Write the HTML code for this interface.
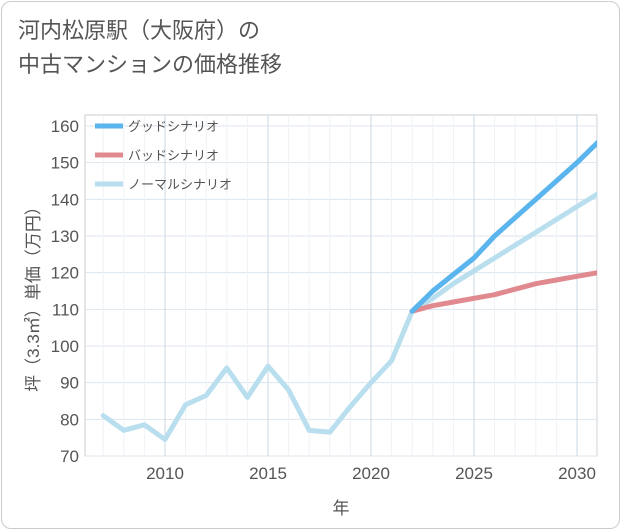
<!DOCTYPE html>
<html><head><meta charset="utf-8">
<style>
html,body{margin:0;padding:0;background:#fff;}
body{width:621px;height:530px;overflow:hidden;font-family:"Liberation Sans","Noto Sans CJK JP",sans-serif;}
.frame{position:absolute;left:1px;top:1px;width:617px;height:526px;border:1px solid #ccc;border-radius:10px;}
.title{position:absolute;left:18px;top:14px;font-size:22px;line-height:34px;color:#555;}
</style></head>
<body>
<div class="frame"></div>
<div class="title">河内松原駅（大阪府）の<br>中古マンションの価格推移</div>
<svg id="chart" width="621" height="530" style="position:absolute;left:0;top:0"></svg>
<script>
const yearsPast=[2007,2008,2009,2010,2011,2012,2013,2014,2015,2016,2017,2018,2019,2020,2021,2022];
const pastValues=[81,77,78.5,74.5,84,86.5,94,86,94.5,88,77,76.5,83.5,90,96,109.5];
const yearsFuture=[2022,2023,2024,2025,2026,2027,2028,2029,2030,2031];
const goodValues=[109.5,115,119.5,124,130,135,140,145,150,155.5];
const badValues=[109.5,111,112,113,114,115.5,117,118,119,120];
const normalValues=[109.5,113,117,120.5,124,127.5,131,134.5,138,141.5];
const yTicks=[70,80,90,100,110,120,130,140,150,160];
const xTicks=[2010,2015,2020,2025,2030];
const legendLabels=["グッドシナリオ","バッドシナリオ","ノーマルシナリオ"];

const L=85,R=597,T=115,B=456;
const x=v=>165+(v-2010)*(577-165)/20;
const y=v=>456-(v-70)*(456-126)/90;
const svg=document.getElementById('chart');
const NS='http://www.w3.org/2000/svg';
function mk(t,a,p){const e=document.createElementNS(NS,t);for(const k in a)e.setAttribute(k,a[k]);(p||svg).appendChild(e);return e;}

const bg=mk('rect',{x:L,y:T,width:R-L,height:B-T,fill:'#fff',stroke:'#ccc'});


for(const t of yTicks){
  const g=mk('line',{x1:L,x2:R,y1:y(t),y2:y(t),stroke:'#dde6ee'});
  
  
  const tx=mk('text',{x:L-6,y:y(t)+6,'text-anchor':'end','font-size':17,fill:'#555'});
  tx.textContent=t;
  
  
}
for(let yr=2007;yr<=2031;yr++){
  const major=xTicks.includes(yr);
  const g=mk('line',{x1:x(yr),x2:x(yr),y1:T,y2:B,stroke:major?'#c9d9e6':'#eef2f6'});
  
  
}
for(const t of xTicks){
  const tx=mk('text',{x:x(t),y:479,'text-anchor':'middle','font-size':17,fill:'#555'});
  tx.textContent=t;
  
  
}
const xt=mk('text',{x:341,y:514,'text-anchor':'middle','font-size':17,fill:'#555'});
xt.textContent='年';


const yt=mk('text',{x:0,y:0,'text-anchor':'middle','font-size':17,fill:'#555',transform:'translate(39,295) rotate(-90)'});
yt.textContent='坪（3.3㎡）単価（万円）';



const clip=mk('clipPath',{id:'c'});mk('rect',{x:L,y:T,width:R-L,height:B-T},clip);
function line(xs,vs,color,name){
  const p=mk('polyline',{points:xs.map((a,i)=>x(a)+','+y(vs[i])).join(' '),fill:'none',stroke:color,'stroke-width':5,'stroke-linejoin':'round','stroke-linecap':'round','clip-path':'url(#c)'});
  
  
}
line(yearsPast,pastValues,'#b9dfee','past-price-line');
line(yearsFuture,normalValues,'#b9dfee','normal-scenario-line');
line(yearsFuture,badValues,'#e08a90','bad-scenario-line');
line(yearsFuture,goodValues,'#5ab4ee','good-scenario-line');

const lc=['#5ab4ee','#e08a90','#b9dfee'];
legendLabels.forEach((s,i)=>{
  const ly=126+i*29;
  const l=mk('line',{x1:95,x2:123,y1:ly,y2:ly,stroke:lc[i],'stroke-width':5});
  
  
  const t=mk('text',{x:128,y:ly+5,'font-size':13,fill:'#555'});
  t.textContent=s;
  
  
});
</script>
</body></html>
